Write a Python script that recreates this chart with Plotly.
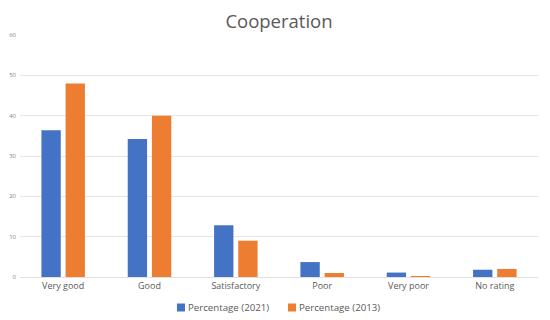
import plotly.graph_objects as go

categories = ["Very good", "Good", "Satisfactory", "Poor", "Very poor", "No rating"]
pct_2021 = [36.4, 34.2, 12.8, 3.7, 1.1, 1.8]
pct_2013 = [48.0, 40.0, 9.0, 1.0, 0.2, 2.0]
y_ticks = [0, 10, 20, 30, 40, 50, 60]
series_names = ["Percentage (2021)", "Percentage (2013)"]
series_colors = ["#4472C4", "#ED7D31"]

fig = go.Figure()
for name, vals, col in zip(series_names, [pct_2021, pct_2013], series_colors):
    fig.add_trace(go.Bar(x=categories, y=vals, name=name,
                         marker=dict(color=col, line=dict(width=0))))

# page has an 8px body margin, so the figure is sized/offset to compensate
fig.update_layout(
    width=542, height=312,
    margin=dict(l=12, r=12, t=27, b=43, autoexpand=False),
    paper_bgcolor="white", plot_bgcolor="white",
    barmode="group", bargap=0.44, bargroupgap=0.2,
    title=dict(text="Cooperation", x=0.5, xanchor="center",
               yref="container", y=0.978, yanchor="top", pad=dict(t=0, b=0),
               font=dict(family="Open Sans", size=18.5, color="#595959")),
    font=dict(family="Open Sans", color="#595959"),
    showlegend=False,
)

# compact legend drawn below the plot (paper coordinates)
sq_x = [0.303, 0.5174]
txt_x = [0.3205, 0.5345]
for name, col, sx, tx in zip(series_names, series_colors, sq_x, txt_x):
    fig.add_shape(type="rect", xref="paper", yref="paper",
                  x0=sx, x1=sx + 0.0155, y0=-0.1426, y1=-0.1095,
                  fillcolor=col, line=dict(width=0))
    fig.add_annotation(text=name, xref="paper", yref="paper", x=tx, y=-0.126,
                       xanchor="left", yanchor="middle", showarrow=False,
                       font=dict(size=9.7, color="#595959"))

fig.update_yaxes(range=[0, 60], tickvals=y_ticks, showgrid=True, gridcolor="#E6E6E6",
                 gridwidth=1, zeroline=False, showline=False,
                 tickfont=dict(size=6, color="#7f7f7f"), ticks="", ticklabelstandoff=3)
fig.update_xaxes(showline=True, linecolor="#E0E0E0", linewidth=1, ticks="",
                 tickfont=dict(size=9, color="#595959"))

fig.write_html("out.html")
